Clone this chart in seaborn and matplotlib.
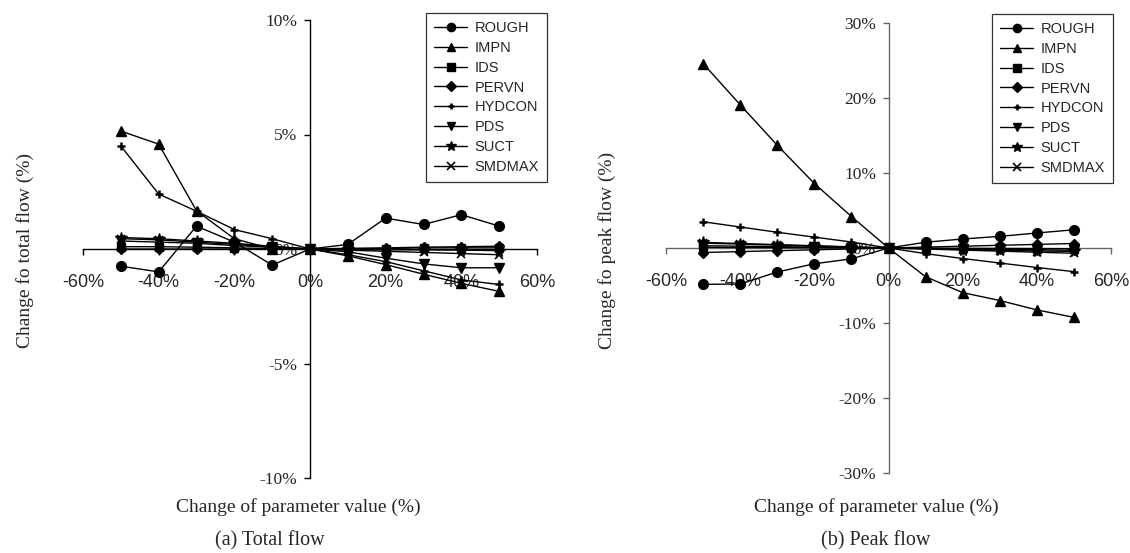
import matplotlib
matplotlib.use("Agg")
import matplotlib.pyplot as plt
import seaborn as sns
import pandas as pd

# ---------------- data ----------------
param_change = [-50, -40, -30, -20, -10, 0, 10, 20, 30, 40, 50]
series_names = ["ROUGH", "IMPN", "IDS", "PERVN", "HYDCON", "PDS", "SUCT", "SMDMAX"]

# (a) change to total flow (%)
total_rough = [-0.75, -1.0, 1.0, 0.3, -0.7, 0, 0.2, 1.35, 1.07, 1.5, 1.0]
total_impn = [5.15, 4.58, 1.67, 0.45, 0.0, 0, -0.3, -0.68, -1.1, -1.5, -1.85]
total_ids = [0.1, 0.1, 0.08, 0.05, 0.02, 0, 0.0, 0.02, 0.05, 0.05, 0.05]
total_pervn = [0.0, 0.0, 0.0, 0.0, 0.0, 0, 0.03, 0.05, 0.08, 0.1, 0.12]
total_hydcon = [4.5, 2.4, 1.65, 0.85, 0.45, 0, -0.25, -0.55, -0.95, -1.35, -1.55]
total_pds = [0.35, 0.3, 0.25, 0.15, 0.08, 0, -0.12, -0.4, -0.65, -0.82, -0.82]
total_suct = [0.5, 0.45, 0.35, 0.25, 0.12, 0, -0.02, -0.03, -0.04, -0.05, -0.07]
total_smdmax = [0.45, 0.4, 0.3, 0.2, 0.1, 0, -0.05, -0.1, -0.15, -0.2, -0.25]

# (b) change to peak flow (%)
peak_rough = [-4.85, -4.8, -3.2, -2.1, -1.45, 0, 0.77, 1.2, 1.55, 2.0, 2.43]
peak_impn = [24.6, 19.1, 13.7, 8.6, 4.2, 0, -3.83, -5.95, -7.0, -8.25, -9.25]
peak_ids = [0.1, 0.08, 0.06, 0.04, 0.02, 0, -0.02, -0.04, -0.06, -0.08, -0.1]
peak_pervn = [-0.6, -0.48, -0.36, -0.24, -0.12, 0, 0.12, 0.24, 0.36, 0.48, 0.6]
peak_hydcon = [3.5, 2.8, 2.1, 1.45, 0.8, 0, -0.75, -1.4, -2.0, -2.6, -3.15]
peak_pds = [0.3, 0.24, 0.18, 0.12, 0.06, 0, -0.06, -0.12, -0.18, -0.24, -0.3]
peak_suct = [0.75, 0.6, 0.45, 0.3, 0.15, 0, -0.1, -0.2, -0.3, -0.4, -0.45]
peak_smdmax = [0.65, 0.52, 0.39, 0.26, 0.13, 0, -0.14, -0.28, -0.42, -0.56, -0.7]

x_ticks = [-60, -40, -20, 0, 20, 40, 60]
x_tick_labels = ["-60%", "-40%", "-20%", "0%", "20%", "40%", "60%"]
total_y_ticks = [-10, -5, 0, 5, 10]
total_y_tick_labels = ["-10%", "-5%", "0%", "5%", "10%"]
peak_y_ticks = [-30, -20, -10, 0, 10, 20, 30]
peak_y_tick_labels = ["-30%", "-20%", "-10%", "0%", "10%", "20%", "30%"]

total_series = [total_rough, total_impn, total_ids, total_pervn,
                total_hydcon, total_pds, total_suct, total_smdmax]
peak_series = [peak_rough, peak_impn, peak_ids, peak_pervn,
               peak_hydcon, peak_pds, peak_suct, peak_smdmax]

# ---------------- styles ----------------
marker_styles = {
    "ROUGH": dict(marker="o", markersize=7),
    "IMPN": dict(marker="^", markersize=7.5),
    "IDS": dict(marker="s", markersize=6),
    "PERVN": dict(marker="D", markersize=5.5),
    "HYDCON": dict(marker="+", markersize=5.5, markeredgewidth=1.8),
    "PDS": dict(marker="v", markersize=7),
    "SUCT": dict(marker="*", markersize=8.5),
    "SMDMAX": dict(marker="x", markersize=6, markeredgewidth=1.2),
}

sns.set_style("white")
plt.rcParams["font.family"] = ["Liberation Sans", "DejaVu Sans"]

fig = plt.figure(figsize=(11.3, 5.53), dpi=100)
W, H = 1130.0, 553.0
ax1 = fig.add_axes([83 / W, 1 - 478 / H, 454 / W, 458 / H])
ax2 = fig.add_axes([666 / W, 1 - 473 / H, 445 / W, 450 / H])


def draw_panel(ax, series, yticks, yticklabels, ylim, spine_color):
    for name, vals in zip(series_names, series):
        df = pd.DataFrame({"x": param_change, "y": vals})
        st = dict(marker_styles[name])
        st.setdefault("markeredgewidth", 1.0)
        sns.lineplot(data=df, x="x", y="y", ax=ax, color="black", linewidth=1.0,
                     markeredgecolor="black", markerfacecolor="black",
                     label=name, sort=False, legend=False, **st)
    ax.set_xlim(-60, 60)
    ax.set_ylim(*ylim)
    for s in ["top", "right"]:
        ax.spines[s].set_visible(False)
    ax.spines["left"].set_position(("data", 0))
    ax.spines["bottom"].set_position(("data", 0))
    for s in ["left", "bottom"]:
        ax.spines[s].set_color(spine_color)
        ax.spines[s].set_linewidth(1.0)
        ax.spines[s].set_zorder(0.5)
    ax.set_xticks(x_ticks)
    ax.set_xticklabels(x_tick_labels, fontsize=13, family=["Liberation Sans"])
    ax.set_yticks(yticks)
    ax.set_yticklabels(yticklabels, fontsize=12.5, family=["Liberation Serif"])
    ax.tick_params(axis="x", direction="out", length=4, width=1,
                   color=spine_color, pad=14, bottom=True)
    ax.tick_params(axis="y", direction="out", length=4, width=1,
                   color=spine_color, pad=5, left=True)
    ax.set_xlabel("")
    ax.set_ylabel("")
    ax.grid(False)
    ax.patch.set_alpha(0)


draw_panel(ax1, total_series, total_y_ticks, total_y_tick_labels, (-10, 10), "black")
draw_panel(ax2, peak_series, peak_y_ticks, peak_y_tick_labels, (-30, 30), "#666666")

for ax, anchor in [(ax1, (547 / W, 1 - 13 / H)), (ax2, (1113 / W, 1 - 14 / H))]:
    handles, labels = ax.get_legend_handles_labels()
    leg = ax.legend(handles, labels, loc="upper right", bbox_to_anchor=anchor,
                    bbox_transform=fig.transFigure, borderaxespad=0,
                    frameon=True, fancybox=False, edgecolor="black",
                    fontsize=10.5, markerscale=0.85, handlelength=2.3,
                    labelspacing=0.4, handletextpad=0.5, borderpad=0.55)
    leg.get_frame().set_linewidth(0.9)

serif = ["Liberation Serif"]
fig.text(25 / W, 1 - 250 / H, "Change fo total flow (%)", rotation=90,
         ha="center", va="center", fontsize=14, family=serif)
fig.text(607 / W, 1 - 250 / H, "Change fo peak flow (%)", rotation=90,
         ha="center", va="center", fontsize=14, family=serif)
fig.text(298 / W, 1 - 507 / H, "Change of parameter value (%)",
         ha="center", va="center", fontsize=14, family=serif)
fig.text(876 / W, 1 - 507 / H, "Change of parameter value (%)",
         ha="center", va="center", fontsize=14, family=serif)
fig.text(270 / W, 1 - 541 / H, "(a) Total flow",
         ha="center", va="center", fontsize=14.5, family=serif)
fig.text(876 / W, 1 - 541 / H, "(b) Peak flow",
         ha="center", va="center", fontsize=14.5, family=serif)

fig.savefig("out.png", dpi=100, facecolor="white")
